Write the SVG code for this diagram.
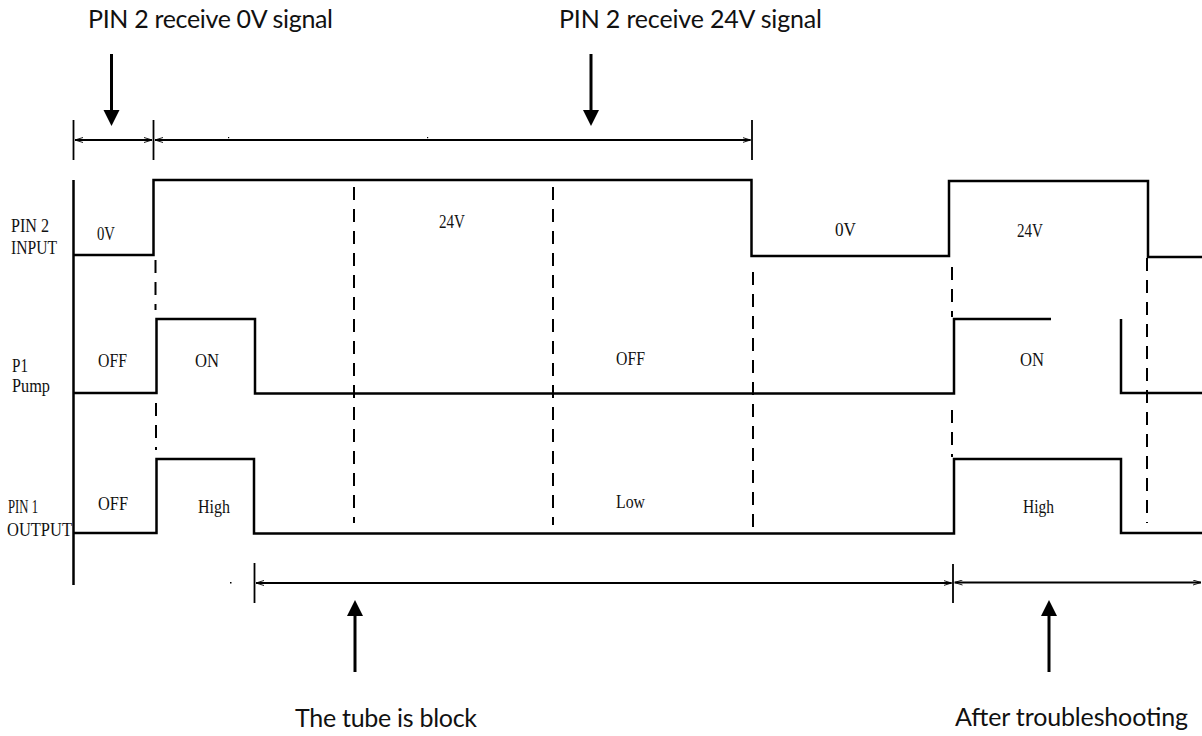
<svg xmlns="http://www.w3.org/2000/svg" width="1202" height="736" viewBox="0 0 1202 736">
<style>
.sig{fill:none;stroke:#000;stroke-width:2.5;stroke-linejoin:miter}
.dash{fill:none;stroke:#000;stroke-width:2;stroke-dasharray:13 9}
.dim{fill:none;stroke:#000;stroke-width:2}
.tick{fill:none;stroke:#000;stroke-width:1.8}
.shaft{fill:none;stroke:#000;stroke-width:3}
.lab{font-family:"Liberation Serif","Times New Roman",serif;font-size:19px;fill:#111}
.cap{font-family:Lato,"Open Sans",sans-serif;font-size:25px;fill:#111}
</style>
<defs>
<marker id="dimEnd" viewBox="0 0 8 6" refX="8" refY="3" markerWidth="8" markerHeight="6" markerUnits="userSpaceOnUse" orient="auto">
<path d="M0,0.5 L8,3 L0,5.5" fill="none" stroke="#000" stroke-width="0.9"/>
</marker>
<marker id="dimStart" viewBox="0 0 8 6" refX="0" refY="3" markerWidth="8" markerHeight="6" markerUnits="userSpaceOnUse" orient="auto">
<path d="M8,0.5 L0,3 L8,5.5" fill="none" stroke="#000" stroke-width="0.9"/>
</marker>
</defs>

<g id="axis">
<line class="sig" x1="73.5" y1="180" x2="73.5" y2="585"/>
</g>

<g id="pin2-input">
<path class="sig" d="M73,255 H153.5 V180 H751.5 V256 H949 V181 H1148 V257 H1202"/>
<text class="lab" x="11" y="232" textLength="38" lengthAdjust="spacingAndGlyphs">PIN 2</text>
<text class="lab" x="11" y="254" textLength="46" lengthAdjust="spacingAndGlyphs">INPUT</text>
<text class="lab" x="97" y="240" textLength="18" lengthAdjust="spacingAndGlyphs">0V</text>
<text class="lab" x="439" y="228" textLength="26" lengthAdjust="spacingAndGlyphs">24V</text>
<text class="lab" x="835" y="236" textLength="21" lengthAdjust="spacingAndGlyphs">0V</text>
<text class="lab" x="1017" y="237" textLength="26" lengthAdjust="spacingAndGlyphs">24V</text>
</g>

<g id="p1-pump">
<path class="sig" d="M73,393 H156.5 V319 H255 V393.5 H954 V319 H1051"/>
<path class="sig" d="M1121,319 V393 H1202"/>
<text class="lab" x="12" y="372" textLength="16" lengthAdjust="spacingAndGlyphs">P1</text>
<text class="lab" x="12" y="392" textLength="38" lengthAdjust="spacingAndGlyphs">Pump</text>
<text class="lab" x="98" y="367" textLength="29" lengthAdjust="spacingAndGlyphs">OFF</text>
<text class="lab" x="195" y="367" textLength="24" lengthAdjust="spacingAndGlyphs">ON</text>
<text class="lab" x="616" y="365" textLength="29" lengthAdjust="spacingAndGlyphs">OFF</text>
<text class="lab" x="1020" y="366" textLength="24" lengthAdjust="spacingAndGlyphs">ON</text>
</g>

<g id="pin1-output">
<path class="sig" d="M73,533 H156.5 V459 H254 V533.5 H954 V459 H1121 V533 H1202"/>
<text class="lab" x="8" y="513" textLength="30" lengthAdjust="spacingAndGlyphs">PIN 1</text>
<text class="lab" x="7" y="536" textLength="65" lengthAdjust="spacingAndGlyphs">OUTPUT</text>
<text class="lab" x="98" y="510" textLength="30" lengthAdjust="spacingAndGlyphs">OFF</text>
<text class="lab" x="198" y="513" textLength="32" lengthAdjust="spacingAndGlyphs">High</text>
<text class="lab" x="616" y="508" textLength="29" lengthAdjust="spacingAndGlyphs">Low</text>
<text class="lab" x="1023" y="513" textLength="31" lengthAdjust="spacingAndGlyphs">High</text>
</g>

<g id="dashed-guides">
<line class="dash" x1="155.5" y1="260" x2="155.5" y2="310"/>
<line class="dash" x1="156" y1="403" x2="156" y2="450"/>
<line class="dash" x1="354" y1="187" x2="354" y2="523"/>
<line class="dash" x1="553" y1="187" x2="553" y2="525"/>
<line class="dash" x1="753" y1="272" x2="753" y2="532"/>
<line class="dash" x1="952" y1="267" x2="952" y2="317"/>
<line class="dash" x1="952" y1="410" x2="952" y2="457"/>
<line class="dash" x1="1147" y1="258" x2="1147" y2="523"/>
</g>

<g id="connectors">
<line class="tick" x1="73.5" y1="120" x2="73.5" y2="160"/>
<line class="tick" x1="153.5" y1="120" x2="153.5" y2="160"/>
<line class="tick" x1="752" y1="120" x2="752" y2="160"/>
<line class="dim" x1="75" y1="140" x2="152" y2="140" marker-start="url(#dimStart)" marker-end="url(#dimEnd)"/>
<line class="dim" x1="155" y1="140" x2="750.5" y2="140" marker-start="url(#dimStart)" marker-end="url(#dimEnd)"/>
<rect x="228" y="137" width="1.2" height="1.2" fill="#000"/>
<rect x="427" y="137" width="1.2" height="1.2" fill="#000"/>

<line class="tick" x1="254.5" y1="563" x2="254.5" y2="603"/>
<line class="tick" x1="953" y1="564" x2="953" y2="603"/>
<line class="dim" x1="256" y1="583" x2="951.5" y2="583" marker-start="url(#dimStart)" marker-end="url(#dimEnd)"/>
<line class="dim" x1="954.5" y1="582.5" x2="1201" y2="582.5" marker-start="url(#dimStart)" marker-end="url(#dimEnd)"/>
<rect x="230" y="582" width="1.5" height="1.5" fill="#000"/>
<rect x="431.5" y="582" width="1.2" height="1.2" fill="#000"/>

<line class="shaft" x1="111.5" y1="54" x2="111.5" y2="112"/>
<polygon points="103.5,110 119.5,110 111.5,126" fill="#000"/>
<line class="shaft" x1="591" y1="54" x2="591" y2="112"/>
<polygon points="583,110 599,110 591,126" fill="#000"/>
<line class="shaft" x1="355" y1="614" x2="355" y2="672"/>
<polygon points="347,616 363,616 355,600" fill="#000"/>
<line class="shaft" x1="1049" y1="614" x2="1049" y2="672"/>
<polygon points="1041,616 1057,616 1049,600" fill="#000"/>
</g>

<g id="captions">
<text class="cap" x="88" y="28" textLength="245">PIN 2 receive 0V signal</text>
<text class="cap" x="559" y="28" textLength="263">PIN 2 receive 24V signal</text>
<text class="cap" x="295" y="727" textLength="182">The tube is block</text>
<text class="cap" x="955" y="726" textLength="233">After troubleshooting</text>
</g>
</svg>
